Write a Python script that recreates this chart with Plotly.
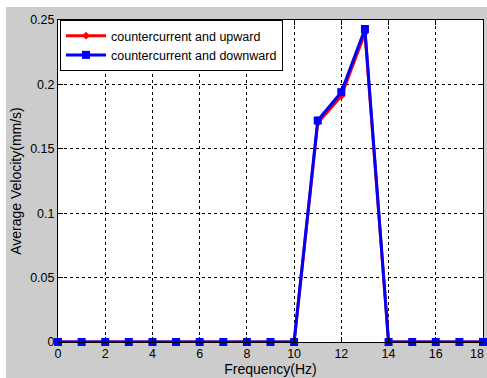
import plotly.graph_objects as go

# Frequency sweep (Hz) and measured average velocities (mm/s)
frequency = list(range(0, 19))
upward = [0, 0, 0, 0, 0, 0, 0, 0, 0, 0, 0, 0.170, 0.191, 0.240, 0, 0, 0, 0, 0]
downward = [0, 0, 0, 0, 0, 0, 0, 0, 0, 0, 0, 0.172, 0.194, 0.243, 0, 0, 0, 0, 0]
y_ticks = [0, 0.05, 0.1, 0.15, 0.2, 0.25]
y_tick_text = ["0", "0.05", "0.1", "0.15", "0.2", "0.25"]
x_ticks = list(range(0, 19, 2))

W, H = 487, 378
L, R, T, B = 58, 4, 20, 36
pw, ph = W - L - R, H - T - B

def px(x):
    return (x - L) / pw

def py(y):
    return (H - B - y) / ph

font = "Liberation Sans, Arial, sans-serif"

fig = go.Figure()
fig.add_trace(go.Scatter(
    x=frequency, y=upward, mode="lines+markers",
    name="countercurrent and upward",
    line=dict(color="#ff0000", width=3),
    marker=dict(symbol="diamond", size=6, color="#ff0000"),
    cliponaxis=False,
))
fig.add_trace(go.Scatter(
    x=frequency, y=downward, mode="lines+markers",
    name="countercurrent and downward",
    line=dict(color="#0000ff", width=3),
    marker=dict(symbol="square", size=8, color="#0000ff"),
    cliponaxis=False,
))

axis_common = dict(
    showline=True, linecolor="black", linewidth=1, mirror="allticks",
    ticks="inside", ticklen=5, tickcolor="black",
    showgrid=True, gridcolor="black", gridwidth=1, griddash="3px,3px",
    zeroline=False, tickfont=dict(family=font, size=12.5, color="black"),
)

fig.update_xaxes(
    range=[0, 18], tickvals=x_ticks,
    title=dict(text="Frequency(Hz)", font=dict(family=font, size=14, color="black"), standoff=4),
    **axis_common,
)
fig.update_yaxes(
    range=[0, 0.25], tickvals=y_ticks, ticktext=y_tick_text,
    title=dict(text="Average Velocity(mm/s)", font=dict(family=font, size=14, color="black"), standoff=5),
    **axis_common,
)

# the last x tick label sits at the page edge; draw it explicitly, kept inside the page
annotations = [
    dict(x=px(486), y=0, xref="paper", yref="y", text=str(x_ticks[-1]), showarrow=False,
         yanchor="top", xanchor="right", yshift=-3,
         font=dict(family=font, size=12.5, color="black")),
]

# white page strips around the grey figure canvas
shapes = [
    dict(type="rect", xref="paper", yref="paper", x0=px(0), x1=px(W), y0=py(0), y1=py(7),
         fillcolor="white", line=dict(width=0), layer="above"),
    dict(type="rect", xref="paper", yref="paper", x0=px(0), x1=px(6), y0=py(0), y1=py(H),
         fillcolor="white", line=dict(width=0), layer="above"),
]

fig.update_layout(
    width=W, height=H,
    margin=dict(l=L, r=R, t=T, b=B),
    paper_bgcolor="#cccccc", plot_bgcolor="white",
    shapes=shapes,
    annotations=annotations,
    showlegend=True,
    legend=dict(
        x=px(60), y=py(20), xanchor="left", yanchor="top",
        bgcolor="white", bordercolor="black", borderwidth=1,
        font=dict(family=font, size=12.5, color="black"),
        tracegroupgap=0, itemwidth=40,
    ),
)

fig.write_html("out.html")
